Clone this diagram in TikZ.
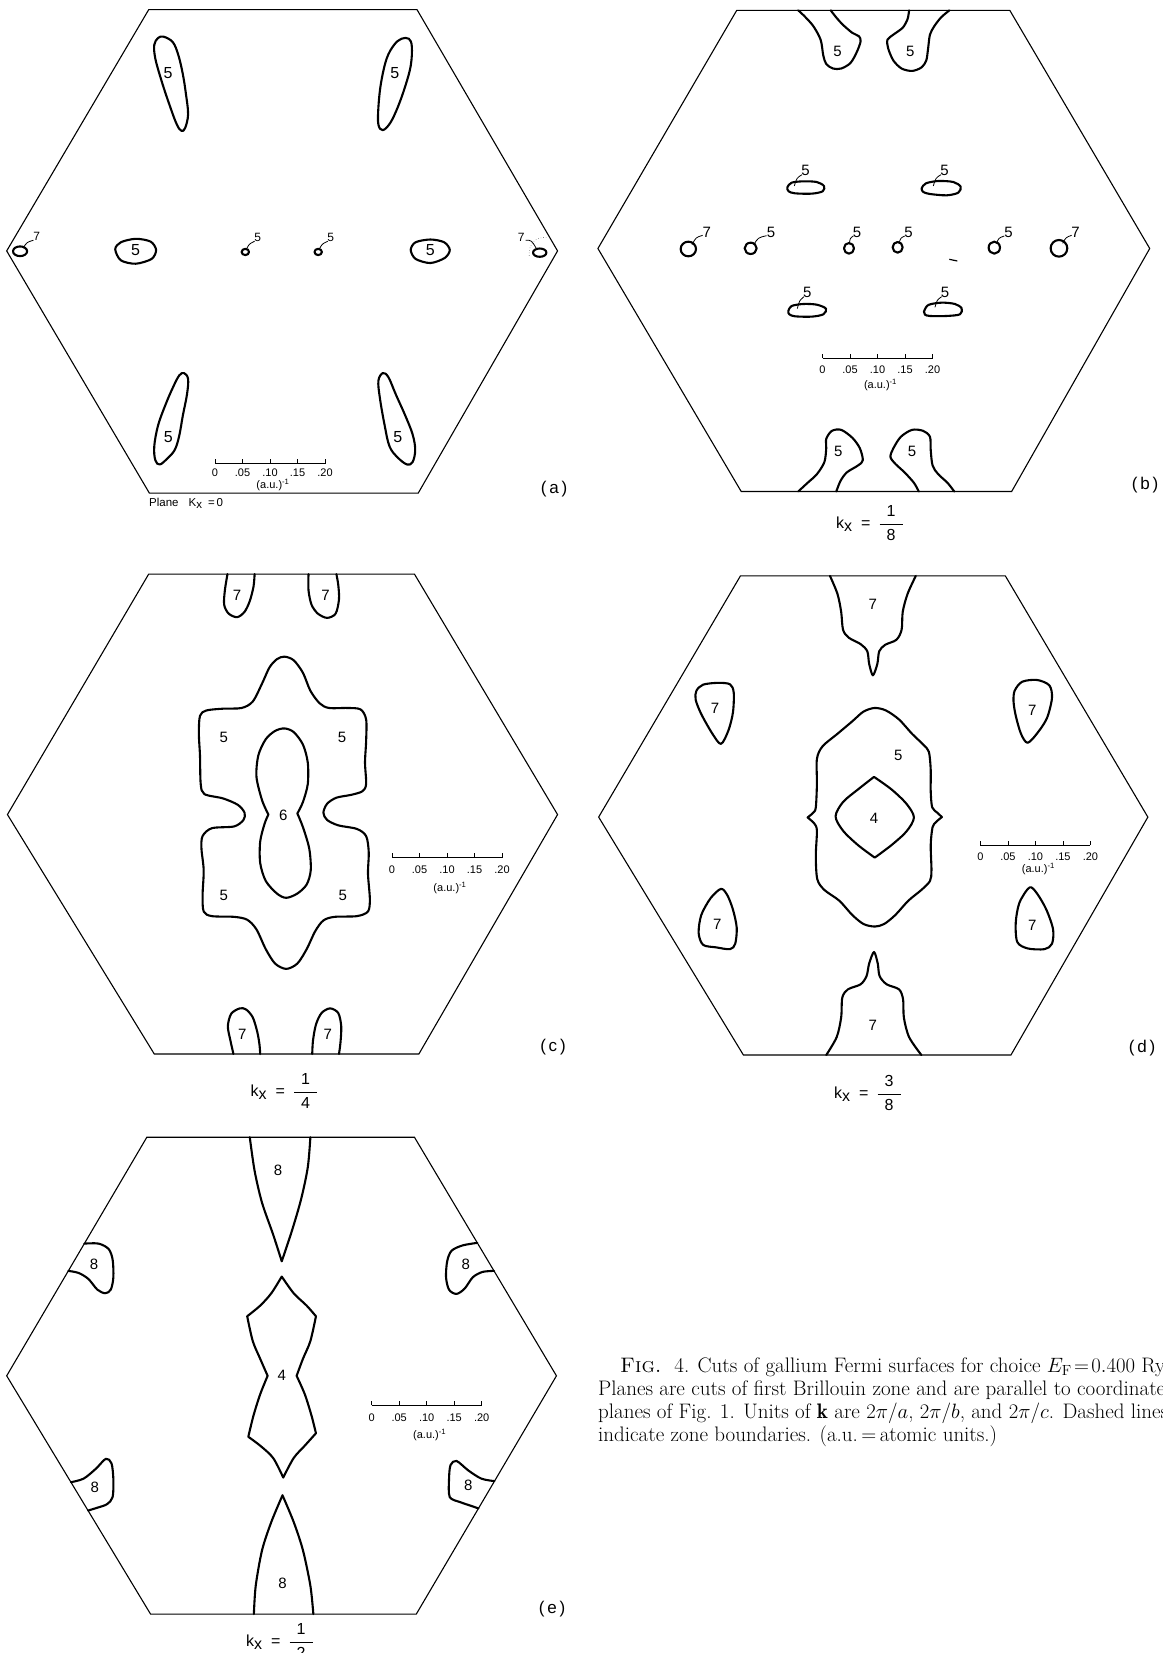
\documentclass[tikz,border=0pt]{standalone}
\usepackage{fontspec}
\newfontfamily\labfont{Liberation Sans}
\newcommand{\sbar}[5]{%
  \draw[sb] (#2,#3) -- ({#2+110},#3);
  \foreach \i in {0,...,4} {\draw[sb] ({#2+27.5*\i},#3) -- ({#2+27.5*\i},{#3-4.5});}
  \node[sbt] (#1-0) at (#2,{#3+#4}) {0};
  \node[sbt] (#1-1) at ({#2+27.5},{#3+#4}) {.05};
  \node[sbt] (#1-2) at ({#2+55},{#3+#4}) {.10};
  \node[sbt] (#1-3) at ({#2+82.5},{#3+#4}) {.15};
  \node[sbt] (#1-4) at ({#2+110},{#3+#4}) {.20};
  \node[sbt] (#1-u) at ({#2+58},{#3+#5}) {(a.u.)\textsuperscript{-1}};
}
\newcommand{\kxlab}[2]{k\raisebox{-3pt}{x}\hspace{9pt}=\hspace{8pt}$\displaystyle\frac{\mbox{\hspace{7pt}#1\hspace{7pt}}}{\mbox{\hspace{7pt}#2\hspace{7pt}}}$}
\begin{document}
\begin{tikzpicture}[x=1pt,y=-1pt,
  hex/.style={line width=1.1pt, line join=miter},
  fs/.style={line width=2.1pt, line join=round, line cap=round},
  lead/.style={line width=0.8pt},
  sb/.style={line width=0.8pt},
  sbt/.style={font=\labfont\fontsize{11}{11}\selectfont, inner sep=0pt},
  num/.style={font=\labfont\fontsize{15}{15}\selectfont, inner sep=0pt},
  bignum/.style={font=\labfont\fontsize{16}{16}\selectfont, inner sep=0pt},
  smallnum/.style={font=\labfont\fontsize{12}{12}\selectfont, inner sep=0pt},
  plab/.style={font=\labfont\fontsize{17}{17}\selectfont, inner sep=0pt},
  kx/.style={font=\labfont\fontsize{16}{16}\selectfont, inner sep=0pt},
  captxt/.style={font=\fontsize{21}{23}\selectfont, inner sep=0pt, anchor=base west}]
\fill[white] (0,0) rectangle (1162,1653);
\useasboundingbox (0,0) rectangle (1162,1653);

% ================= (a) =================
\begin{scope}[xscale=0.3717, yscale=0.3461]
\draw[hex] (400,28) -- (1122,28) -- (1500,725) -- (1125,1425) -- (402,1425) -- (18,725) -- cycle;
\draw[fs] plot[smooth cycle, tension=0.6] coordinates {(440,106) (465,122) (480,160) (492,215) (500,270) (506,330) (498,370) (488,378) (475,358) (455,300) (435,235) (418,170) (415,130) (425,110)};
\node[bignum] (a1) at (452,210) {5};
\draw[fs] plot[smooth cycle, tension=0.6] coordinates {(1100,112) (1108,135) (1105,190) (1090,250) (1070,310) (1050,355) (1030,376) (1018,360) (1018,310) (1025,240) (1040,170) (1060,130) (1080,112)};
\node[bignum] (a2) at (1062,210) {5};
\draw[fs] plot[smooth cycle, tension=0.6] coordinates {(495,1078) (506,1095) (503,1140) (492,1200) (482,1260) (470,1300) (450,1325) (430,1342) (418,1330) (415,1290) (425,1230) (445,1170) (465,1120) (482,1085)};
\node[bignum] (a3) at (453,1262) {5};
\draw[fs] plot[smooth cycle, tension=0.6] coordinates {(1030,1078) (1045,1090) (1065,1140) (1090,1200) (1110,1255) (1117,1300) (1110,1335) (1095,1342) (1070,1322) (1048,1290) (1035,1230) (1022,1150) (1018,1100)};
\node[bignum] (a4) at (1070,1262) {5};
\draw[fs] plot[smooth cycle] coordinates {(310,720) (325,700) (365,690) (405,698) (420,722) (408,748) (365,762) (325,752)};
\node[bignum] (a5) at (365,722) {5};
\draw[fs] plot[smooth cycle] coordinates {(1105,722) (1118,700) (1158,692) (1195,700) (1210,722) (1197,745) (1158,760) (1118,748)};
\node[bignum] (a6) at (1158,722) {5};
% small pockets
\draw[fs] (660,728) ellipse [x radius=10, y radius=9];
\node[smallnum] (a7) at (693,686) {5};
\draw[lead] (662,722) .. controls (670,705) .. (685,697);
\draw[fs] (856,728) ellipse [x radius=10, y radius=9];
\node[smallnum] (a8) at (890,686) {5};
\draw[lead] (858,722) .. controls (866,705) .. (882,697);
\draw[fs] (54,726) ellipse [x radius=19, y radius=14];
\node[smallnum] (a9) at (99,684) {7};
\draw[lead] (62,717) .. controls (72,700) .. (90,694);
\draw[fs] (1452,730) ellipse [x radius=18, y radius=12];
\node[smallnum] (a10) at (1402,686) {7};
\draw[lead] (1414,694) .. controls (1430,694) .. (1444,720);
\draw[line width=0.6pt, dotted, gray] (1470,686) .. controls (1445,684) and (1420,700) .. (1424,742);
\end{scope}
\sbar{sa}{215}{463.5}{9.5}{21}
\node[plab] (la) at (554,489) {(\,a\,)};
\node[font=\labfont\fontsize{11.5}{11.5}\selectfont, inner sep=0pt, anchor=west] (pa) at (149,503) {Plane\hspace{10pt}K\raisebox{-2pt}{x}\hspace{6pt}=\hspace{2pt}0};

% ================= (b) =================
\begin{scope}[shift={(580,0)}, xscale=0.3731, yscale=0.3461]
\draw[hex] (420,30) -- (1152,30) -- (1527,718) -- (1157,1420) -- (432,1420) -- (48,718) -- cycle;
\draw[fs] plot[smooth] coordinates {(585,30) (600,45) (625,75) (645,115) (652,160) (660,185) (678,198) (700,198) (725,182) (742,150) (752,120) (748,105) (730,95) (705,72) (688,52) (672,30)};
\node[num] (b1) at (690,148) {5};
\draw[fs] plot[smooth] coordinates {(990,30) (968,50) (950,75) (938,100) (933,140) (928,175) (915,195) (890,205) (862,198) (840,175) (826,140) (824,115) (840,100) (865,80) (878,55) (882,30)};
\node[num] (b2) at (885,148) {5};
\draw[fs] plot[smooth] coordinates {(585,1420) (610,1395) (635,1370) (655,1335) (660,1295) (660,1268) (675,1245) (700,1242) (730,1265) (750,1295) (758,1330) (745,1345) (715,1365) (698,1390) (687,1420)};
\node[num] (b3) at (692,1305) {5};
\draw[fs] plot[smooth] coordinates {(1003,1420) (985,1395) (960,1370) (945,1345) (940,1300) (938,1262) (920,1245) (890,1242) (860,1262) (840,1295) (832,1320) (845,1340) (870,1365) (895,1395) (908,1420)};
\node[num] (b4) at (890,1305) {5};
\end{scope}
\begin{scope}[shift={(680,150)}, scale=0.3333]
\draw[fs] plot[smooth cycle] coordinates {(322,112) (335,98) (370,94) (410,96) (432,108) (428,124) (395,131) (345,130) (326,124)};
\node[num] (b5) at (377,62) {5};
\draw[lead] (343,108) .. controls (350,84) .. (366,74);
\draw[fs] plot[smooth cycle] coordinates {(725,115) (738,100) (775,93) (820,96) (842,110) (835,128) (800,136) (750,132) (730,126)};
\node[num] (b6) at (794,62) {5};
\draw[lead] (760,108) .. controls (767,84) .. (783,74);
\draw[fs] plot[smooth cycle] coordinates {(325,483) (335,468) (370,462) (410,464) (438,476) (430,493) (395,500) (345,499) (328,493)};
\node[num] (b7) at (382,428) {5};
\draw[lead] (352,476) .. controls (358,452) .. (372,440);
\draw[fs] plot[smooth cycle] coordinates {(732,485) (745,465) (785,458) (825,462) (845,475) (840,493) (800,498) (750,498) (735,494)};
\node[num] (b8) at (795,428) {5};
\draw[lead] (765,472) .. controls (771,450) .. (785,440);
\draw[fs] (25,297) ellipse [x radius=23, y radius=22];
\node[num] (b9) at (80,248) {7};
\draw[lead] (36,284) .. controls (48,262) .. (68,256);
\draw[fs] (212,295) ellipse [x radius=18, y radius=17];
\node[num] (b10) at (273,248) {5};
\draw[lead] (221,285) .. controls (234,263) .. (260,257);
\draw[fs] (507,295) ellipse [x radius=15, y radius=16];
\node[num] (b11) at (531,248) {5};
\draw[lead] (508,283) .. controls (510,265) .. (520,258);
\draw[fs] (653,292) ellipse [x radius=15, y radius=16];
\node[num] (b12) at (686,248) {5};
\draw[lead] (657,280) .. controls (662,264) .. (674,258);
\draw[fs] (943,293) ellipse [x radius=17, y radius=18];
\node[num] (b13) at (986,248) {5};
\draw[lead] (950,280) .. controls (956,264) .. (973,258);
\draw[fs] (1137,295) ellipse [x radius=25, y radius=25];
\node[num] (b14) at (1187,248) {7};
\draw[lead] (1148,280) .. controls (1158,262) .. (1175,256);
\draw[line width=1.2pt] (808,328) -- (832,333);
\end{scope}
\sbar{sbb}{822.5}{358}{12}{27}
\node[plab] (lb) at (1145,485) {(\,b\,)};
\node[kx] (kb) at (870,523) {\kxlab{1}{8}};

% ================= (c) =================
\begin{scope}[shift={(0,540)}, xscale=0.3717, yscale=0.3589]
\draw[hex] (400,95) -- (1115,95) -- (1500,765) -- (1127,1432) -- (415,1432) -- (20,765) -- cycle;
\draw[fs] plot[smooth] coordinates {(612,95) (605,140) (603,180) (615,205) (638,215) (658,200) (672,170) (682,130) (685,95)};
\node[num] (c1) at (638,155) {7};
\draw[fs] plot[smooth] coordinates {(830,95) (830,140) (838,180) (855,205) (880,217) (903,205) (912,165) (910,125) (905,95)};
\node[num] (c2) at (876,155) {7};
\draw[fs] plot[smooth] coordinates {(628,1432) (620,1395) (613,1355) (622,1320) (645,1305) (662,1308) (680,1330) (692,1370) (698,1405) (700,1432)};
\node[num] (c3) at (652,1378) {7};
\draw[fs] plot[smooth] coordinates {(840,1432) (842,1395) (850,1350) (865,1318) (888,1305) (910,1318) (918,1355) (916,1400) (912,1432)};
\node[num] (c4) at (882,1378) {7};
\draw[fs] plot[smooth cycle] coordinates {(765,325) (790,335) (815,370) (835,420) (860,455) (885,468) (935,468) (970,472) (985,500) (985,560) (982,620) (985,680) (975,700) (945,710) (905,718) (880,735) (870,760) (880,780) (910,795) (960,805) (985,825) (992,870) (990,930) (995,1000) (990,1035) (960,1048) (900,1050) (870,1060) (848,1090) (825,1140) (800,1180) (770,1195) (740,1180) (715,1140) (690,1085) (665,1058) (630,1050) (570,1048) (548,1035) (545,990) (548,920) (542,860) (545,825) (570,803) (630,798) (655,780) (658,760) (640,738) (600,720) (550,708) (540,680) (538,600) (535,540) (538,490) (555,475) (600,470) (650,468) (680,450) (705,400) (725,355) (745,332)};
\node[num] (c5) at (602,550) {5};
\node[num] (c6) at (920,550) {5};
\node[num] (c7) at (602,990) {5};
\node[num] (c8) at (922,990) {5};
\draw[fs] plot[smooth] coordinates {(722,765) (705,725) (690,660) (695,600) (715,555) (740,532) (765,525) (790,535) (815,570) (828,620) (828,680) (815,730) (800,762)}
  -- plot[smooth] coordinates {(800,762) (815,800) (832,860) (836,920) (825,960) (800,985) (770,997) (745,985) (715,950) (700,900) (700,840) (712,790) (722,765)} -- cycle;
\node[num] (c9) at (762,768) {6};
\end{scope}
\sbar{sc}{392}{857.7}{12.5}{30}
\node[plab] (lc) at (553,1047) {(\,c\,)};
\node[kx] (kc) at (284.5,1091) {\kxlab{1}{4}};

% ================= (d) =================
\begin{scope}[shift={(580,540)}, xscale=0.3731, yscale=0.3589]
\draw[hex] (430,100) -- (1140,100) -- (1522,772) -- (1155,1435) -- (438,1435) -- (50,772) -- cycle;
\draw[fs] plot[smooth] coordinates {(670,100) (690,150) (700,200) (705,250) (720,272) (752,290) (770,310) (775,345) (785,377) (797,345) (802,310) (818,292) (848,278) (862,250) (865,200) (878,150) (900,100)};
\node[num] (d1) at (785,180) {7};
\draw[fs] plot[smooth] coordinates {(660,1435) (688,1385) (700,1330) (703,1275) (718,1252) (752,1238) (768,1215) (775,1180) (788,1148) (798,1180) (803,1215) (822,1238) (855,1252) (866,1280) (868,1330) (882,1385) (915,1435)};
\node[num] (d2) at (785,1353) {7};
\draw[fs] plot[smooth cycle] coordinates {(312,420) (330,403) (370,398) (402,402) (412,425) (410,480) (398,530) (378,568) (355,540) (325,485) (310,445)};
\node[num] (d3) at (362,470) {7};
\draw[fs] plot[smooth cycle] coordinates {(1165,420) (1185,395) (1225,390) (1258,405) (1265,440) (1252,495) (1228,535) (1200,565) (1182,540) (1168,490) (1162,450)};
\node[num] (d4) at (1212,475) {7};
\draw[fs] plot[smooth cycle] coordinates {(378,972) (395,990) (410,1030) (420,1080) (416,1125) (402,1140) (365,1135) (330,1128) (318,1095) (325,1045) (350,998)};
\node[num] (d5) at (368,1070) {7};
\draw[fs] plot[smooth cycle] coordinates {(1205,968) (1225,985) (1250,1030) (1268,1085) (1265,1125) (1245,1140) (1200,1138) (1172,1120) (1168,1065) (1178,1010)};
\node[num] (d6) at (1212,1075) {7};
\draw[fs] plot[smooth] coordinates {(610,773) (625,760) (632,745) (635,680) (635,610) (650,575) (690,540) (730,505) (760,478) (790,468) (820,475) (855,500) (890,540) (920,570) (935,590) (940,640) (940,700) (944,745) (958,760) (970,772)}
  -- plot[smooth] coordinates {(970,772) (955,785) (945,800) (940,850) (942,920) (938,950) (915,975) (880,1005) (845,1045) (815,1070) (790,1077) (760,1070) (730,1045) (695,1005) (655,975) (636,945) (632,880) (635,810) (628,790) (610,773)} -- cycle;
\node[num] (d7) at (853,600) {5};
\draw[fs] plot[smooth] coordinates {(788,660) (835,695) (875,735) (895,773) (875,812) (835,850) (790,885)}
  -- plot[smooth] coordinates {(790,885) (745,850) (705,810) (685,770) (705,730) (745,695) (788,660)} -- cycle;
\node[num] (d8) at (788,775) {4};
\end{scope}
\sbar{sd}{980.4}{845}{12}{24}
\node[plab] (ld) at (1142,1048) {(\,d\,)};
\node[kx] (kd) at (868,1093) {\kxlab{3}{8}};

% ================= (e) =================
\begin{scope}[shift={(0,1100)}, xscale=0.3717, yscale=0.3545]
\draw[hex] (395,105) -- (1115,105) -- (1497,778) -- (1120,1450) -- (405,1450) -- (18,778) -- cycle;
\draw[fs] plot[smooth] coordinates {(672,105) (685,200) (705,290) (735,380) (758,455)}
  -- plot[smooth] coordinates {(758,455) (785,370) (810,280) (828,190) (835,105)};
\node[num] (e1) at (748,198) {8};
\draw[fs] plot[smooth] coordinates {(683,1450) (688,1370) (705,1270) (730,1190) (760,1115)}
  -- plot[smooth] coordinates {(760,1115) (790,1190) (815,1270) (835,1370) (843,1450)};
\node[num] (e2) at (760,1363) {8};
\draw[fs] plot[smooth] coordinates {(758,498) (790,545) (825,580) (850,610)}
  -- plot[smooth] coordinates {(850,610) (835,680) (815,730) (798,778)}
  -- plot[smooth] coordinates {(798,778) (820,830) (838,890) (850,940)}
  -- plot[smooth] coordinates {(850,940) (820,975) (790,1010) (762,1065)}
  -- plot[smooth] coordinates {(762,1065) (735,1010) (700,975) (668,950)}
  -- plot[smooth] coordinates {(668,950) (682,890) (700,830) (720,778)}
  -- plot[smooth] coordinates {(720,778) (700,730) (680,680) (665,610)}
  -- plot[smooth] coordinates {(665,610) (700,580) (730,545) (758,498)} -- cycle;
\node[num] (e3) at (758,778) {4};
\draw[fs] plot[smooth] coordinates {(227,405) (265,405) (292,420) (303,450) (305,500) (298,535) (283,545) (262,535) (238,505) (212,488) (184,482)};
\node[num] (e4) at (253,463) {8};
\draw[fs] plot[smooth] coordinates {(1284,403) (1245,410) (1215,425) (1203,455) (1200,500) (1208,535) (1228,547) (1250,532) (1272,500) (1298,485) (1329,482)};
\node[num] (e5) at (1253,463) {8};
\draw[fs] plot[smooth] coordinates {(191,1078) (225,1068) (258,1040) (285,1012) (300,1025) (305,1070) (303,1120) (288,1140) (262,1150) (237,1158)};
\node[num] (e6) at (255,1092) {8};
\draw[fs] plot[smooth] coordinates {(1330,1075) (1295,1068) (1260,1045) (1228,1018) (1212,1030) (1208,1070) (1210,1120) (1240,1135) (1268,1145) (1287,1152)};
\node[num] (e7) at (1260,1088) {8};
\end{scope}
\sbar{se}{371.7}{1405}{12.5}{30}
\node[plab] (le) at (552,1609) {(\,e\,)};
\node[kx] (ke) at (280,1641) {\kxlab{1}{2}};

% ================= caption =================
\node[captxt] (cap1) at (620,1372) {\textsc{Fig.}\ \ 4. Cuts of gallium Fermi surfaces for choice $E_{\mathrm{F}}\!=\!0.400$ Ry.};
\node[captxt] (cap2) at (598,1395) {Planes are cuts of first Brillouin zone and are parallel to coordinate};
\node[captxt] (cap3) at (598,1418) {planes of Fig. 1. Units of $\mathbf{k}$ are $2\pi/a$, $2\pi/b$, and $2\pi/c$. Dashed lines};
\node[captxt] (cap4) at (598,1441) {indicate zone boundaries. (a.u.$\,=\,$atomic units.)};
\end{tikzpicture}
\end{document}
